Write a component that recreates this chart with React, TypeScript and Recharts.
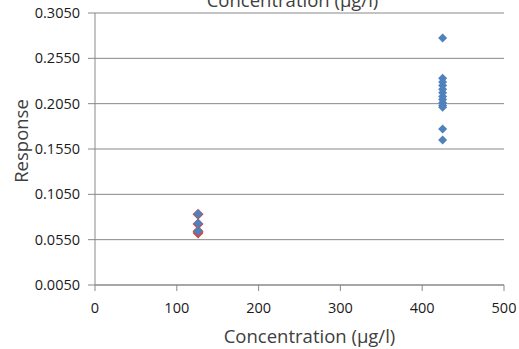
import React from 'react';
import { ScatterChart, Scatter, XAxis, YAxis, CartesianGrid } from 'recharts';

// concentration (µg/l) and measured response for each replicate
const highConc = [425, 425, 425, 425, 425, 425, 425, 425, 425, 425, 425, 425, 425];
const highResp = [0.2774, 0.2330, 0.2290, 0.2250, 0.2210, 0.2170, 0.2130, 0.2095, 0.2060, 0.2030, 0.2010, 0.1771, 0.1649];

const lowConc = [126, 126, 126];
const lowResp = [0.0833, 0.0731, 0.0646];

const lowAltConc = [126, 126, 126, 126];
const lowAltResp = [0.0830, 0.0722, 0.0642, 0.0624];

const xTicks = [0, 100, 200, 300, 400, 500];
const yTicks = [0.005, 0.055, 0.105, 0.155, 0.205, 0.255, 0.305];

const toPoints = (xs: number[], ys: number[]) => xs.map((x, i) => ({ x, y: ys[i] }));

const FONT = '"Open Sans", sans-serif';
const GRID = '#898989';

function Diamond(half: number, fill: string, stroke?: string) {
  return (props: any) => {
    const { cx, cy } = props;
    if (cx == null || cy == null) return null;
    const pts = `${cx},${cy - half} ${cx + half},${cy} ${cx},${cy + half} ${cx - half},${cy}`;
    return <polygon points={pts} fill={fill} stroke={stroke || 'none'} strokeWidth={stroke ? 1.2 : 0} />;
  };
}

function YTitle() {
  return (
    <text
      transform="translate(28,141) rotate(-90)"
      textAnchor="middle"
      fontFamily={FONT}
      fontSize={18.5}
      fill="#404040"
    >
      Response
    </text>
  );
}

export default function App() {
  return (
    <div style={{ position: 'absolute', left: 0, top: 0, width: 519, height: 349, background: '#fff', overflow: 'hidden' }}>
      <div
        style={{
          position: 'absolute',
          left: 0,
          width: 585,
          top: -13,
          textAlign: 'center',
          fontFamily: FONT,
          fontSize: 18.5,
          color: '#404040',
          lineHeight: '26px',
          zIndex: 2,
        }}
      >
        Concentration (µg/l)
      </div>
      <ScatterChart width={519} height={349} margin={{ top: 13, right: 15, bottom: 0, left: 0 }}>
        <CartesianGrid vertical={false} stroke={GRID} strokeWidth={1} />
        <XAxis
          type="number"
          dataKey="x"
          domain={[0, 500]}
          ticks={xTicks}
          height={64}
          stroke={GRID}
          tickSize={6}
          tickMargin={12}
          tick={{ fill: '#1a1a1a', fontFamily: FONT, fontSize: 14.5 }}
          label={{
            value: 'Concentration (µg/l)',
            position: 'insideBottom',
            offset: 6,
            dx: 10,
            fill: '#404040',
            fontFamily: FONT,
            fontSize: 18.5,
          }}
        />
        <YAxis
          type="number"
          dataKey="y"
          domain={[0.005, 0.305]}
          ticks={yTicks}
          width={95}
          stroke={GRID}
          tickSize={7}
          tickMargin={8}
          tickFormatter={(v: number) => v.toFixed(4)}
          tick={{ fill: '#1a1a1a', fontFamily: FONT, fontSize: 14.5 }}
          label={<YTitle />}
        />
        <Scatter data={toPoints(lowAltConc, lowAltResp)} shape={Diamond(5.5, '#C0504D')} isAnimationActive={false} />
        <Scatter data={toPoints(lowConc, lowResp)} shape={Diamond(4.5, '#4F81BD')} isAnimationActive={false} />
        <Scatter data={toPoints(highConc, highResp)} shape={Diamond(4.5, '#4F81BD')} isAnimationActive={false} />
      </ScatterChart>
    </div>
  );
}
